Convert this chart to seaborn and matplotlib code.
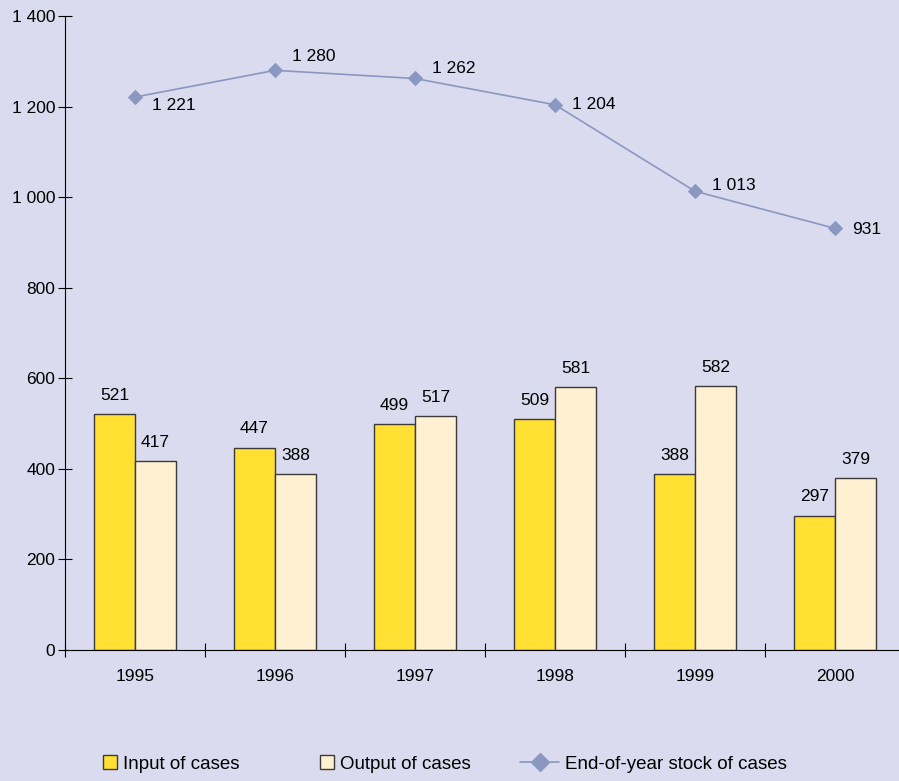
import numpy as np
import pandas as pd
import matplotlib
matplotlib.use("Agg")
import matplotlib.pyplot as plt
import matplotlib.patches as mpatches
import matplotlib.lines as mlines
import seaborn as sns

years = ["1995", "1996", "1997", "1998", "1999", "2000"]
input_cases = [521, 447, 499, 509, 388, 297]
output_cases = [417, 388, 517, 581, 582, 379]
stock_cases = [1221, 1280, 1262, 1204, 1013, 931]
series_names = ["Input of cases", "Output of cases", "End-of-year stock of cases"]
yticks = [0, 200, 400, 600, 800, 1000, 1200, 1400]

bg = "#DADBEE"
c_in = "#FFE033"
c_out = "#FFF0D2"
c_line = "#8A97C0"

sns.set_style("ticks")
plt.rcParams["font.family"] = ["Liberation Sans", "DejaVu Sans"]
plt.rcParams["text.color"] = "black"
plt.rcParams["xtick.color"] = "black"
plt.rcParams["ytick.color"] = "black"
plt.rcParams["axes.edgecolor"] = "black"

def fmt(v):
    return f"{v:,}".replace(",", " ")

df = pd.DataFrame({
    "year": years * 2,
    "value": input_cases + output_cases,
    "series": [series_names[0]] * len(years) + [series_names[1]] * len(years),
})

fig = plt.figure(figsize=(8.99, 7.81), dpi=100)
fig.patch.set_facecolor(bg)
ax = fig.add_axes([65 / 899, 1 - 650 / 781, 840 / 899, (650 - 16) / 781])
ax.set_facecolor(bg)

sns.barplot(data=df, x="year", y="value", hue="series", order=years,
            hue_order=series_names[:2], palette=[c_in, c_out], width=0.585,
            edgecolor="#3a3a3a", linewidth=1.0, saturation=1, legend=False, ax=ax)

sns.lineplot(x=np.arange(len(years)), y=stock_cases, color=c_line, marker="D",
             markersize=7, markeredgecolor=c_line, linewidth=1.2, ax=ax)

# bar labels
for cont in ax.containers:
    ax.bar_label(cont, labels=[fmt(int(v)) for v in cont.datavalues],
                 padding=8, fontsize=12.5)

# line labels
offsets = [-6, 10, 7, 0, 4.5, -1]
for i, v in enumerate(stock_cases):
    ax.annotate(fmt(v), (i, v), xytext=(12, offsets[i]), textcoords="offset points",
                ha="left", va="center", fontsize=12.5)

ax.set_xlim(-0.5, len(years) - 0.5)
ax.set_ylim(0, 1400)
ax.set_yticks(yticks)
ax.set_yticklabels([fmt(t) for t in yticks], fontsize=12.5)
ax.set_xticks(np.arange(len(years)))
ax.set_xticklabels(years, fontsize=12.5)
ax.set_xticks(np.arange(len(years) + 1) - 0.5, minor=True)
ax.tick_params(axis="x", which="major", length=0, pad=14)
ax.tick_params(axis="x", which="minor", length=10, direction="inout", width=0.8)
ax.tick_params(axis="y", length=10, direction="inout", width=0.8, pad=2)
ax.set_xlabel("")
ax.set_ylabel("")
sns.despine(ax=ax, right=True, top=True)
ax.spines["left"].set_linewidth(0.8)
ax.spines["bottom"].set_linewidth(0.8)

ly = 1 - 764 / 781
h1 = mpatches.Patch(facecolor=c_in, edgecolor="#3a3a3a", linewidth=1.0)
h2 = mpatches.Patch(facecolor=c_out, edgecolor="#3a3a3a", linewidth=1.0)
h3 = mlines.Line2D([], [], color=c_line, marker="D", markersize=9, linewidth=1.2)

common = dict(loc="center left", frameon=False, fontsize=13.5, handletextpad=0.3,
              borderpad=0, borderaxespad=0)
leg1 = fig.legend([h1], [series_names[0]], bbox_to_anchor=(103 / 899, ly),
                  handlelength=0.75, handleheight=0.75, **common)
leg2 = fig.legend([h2], [series_names[1]], bbox_to_anchor=(320 / 899, ly),
                  handlelength=0.75, handleheight=0.75, **common)
leg3 = fig.legend([h3], [series_names[2]], bbox_to_anchor=(520 / 899, ly),
                  handlelength=2.1, **common)

fig.savefig("out.png", dpi=100, facecolor=bg)
